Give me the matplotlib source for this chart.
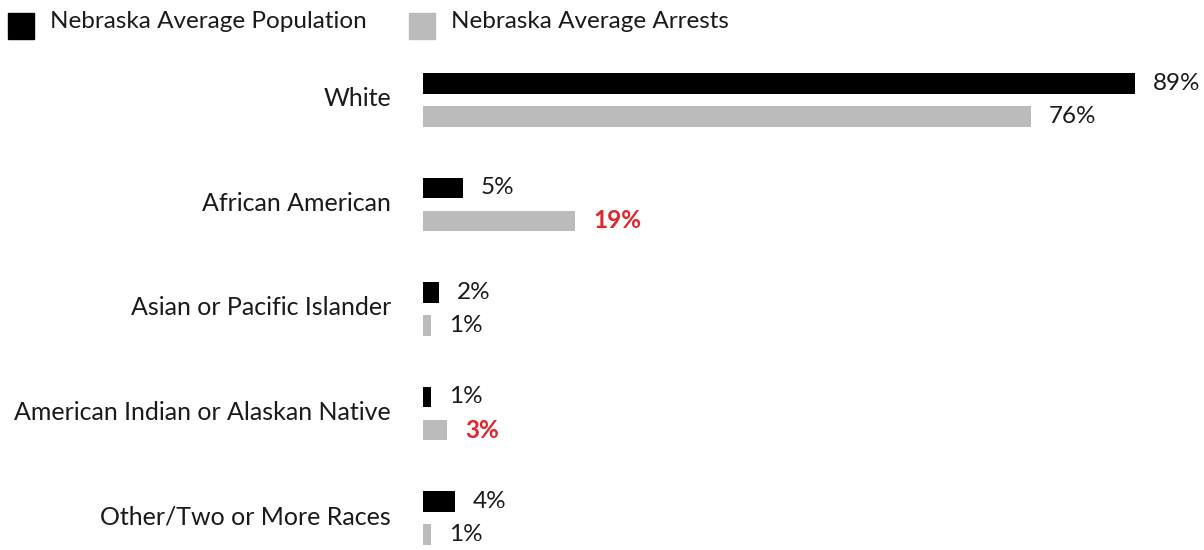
import matplotlib
matplotlib.use('Agg')
import matplotlib.pyplot as plt
import matplotlib.transforms as mtransforms
from matplotlib.patches import Rectangle

categories = ['White', 'African American', 'Asian or Pacific Islander',
              'American Indian or Alaskan Native', 'Other/Two or More Races']
population = [89, 5, 2, 1, 4]
arrests = [76, 19, 1, 3, 1]
highlight = [False, True, False, True, False]  # arrests share above population share

BLACK = '#000000'
GRAY = '#bbbbbb'
RED = '#e0262b'
TEXT = '#1a1a1a'
FS = 17.5

plt.rcParams['font.family'] = ['Lato', 'DejaVu Sans']

W, H = 1204, 550
fig = plt.figure(figsize=(W / 100, H / 100), dpi=100)


def px(x, y):
    return x / W, 1 - y / H


# axes: x from 423px to 1183px, y from 50px to 550px
ax = fig.add_axes([423 / W, 0, 760 / W, 500 / H])
ax.set_xlim(0, 95)
ax.set_ylim(4.306, -0.478)

ypos = list(range(len(categories)))
off = 0.158
h = 0.2
ax.barh([y - off for y in ypos], population, height=h, color=BLACK)
ax.barh([y + off for y in ypos], arrests, height=h, color=GRAY)

for y, p, a, hl in zip(ypos, population, arrests, highlight):
    ax.annotate(f'{p}%', (p, y - off), xytext=(13, 0), textcoords='offset points',
                va='center', ha='left', fontsize=FS, color=TEXT, annotation_clip=False)
    ax.annotate(f'{a}%', (a, y + off), xytext=(13, 0), textcoords='offset points',
                va='center', ha='left', fontsize=FS,
                color=RED if hl else TEXT, fontweight='bold' if hl else 'normal',
                annotation_clip=False)

ax.set_yticks(ypos)
ax.set_yticklabels(categories, fontsize=18, color=TEXT)
ax.tick_params(axis='y', length=0, pad=23)
shift = mtransforms.ScaledTranslation(0, 3 / 100, fig.dpi_scale_trans)
for lab in ax.get_yticklabels():
    lab.set_transform(lab.get_transform() + shift)
ax.set_xticks([])
for s in ax.spines.values():
    s.set_visible(False)

# legend drawn by hand
for x0, col, label in [(8, BLACK, 'Nebraska Average Population'),
                       (409, GRAY, 'Nebraska Average Arrests')]:
    fx, fy = px(x0, 39)
    fig.patches.append(Rectangle((fx, fy), 26 / W, 26 / H, transform=fig.transFigure,
                                 color=col))
    tx, ty = px(x0 + 42, 21)
    fig.text(tx, ty, label, fontsize=FS, color=TEXT, va='center', ha='left')

fig.savefig('out.png', dpi=100)
